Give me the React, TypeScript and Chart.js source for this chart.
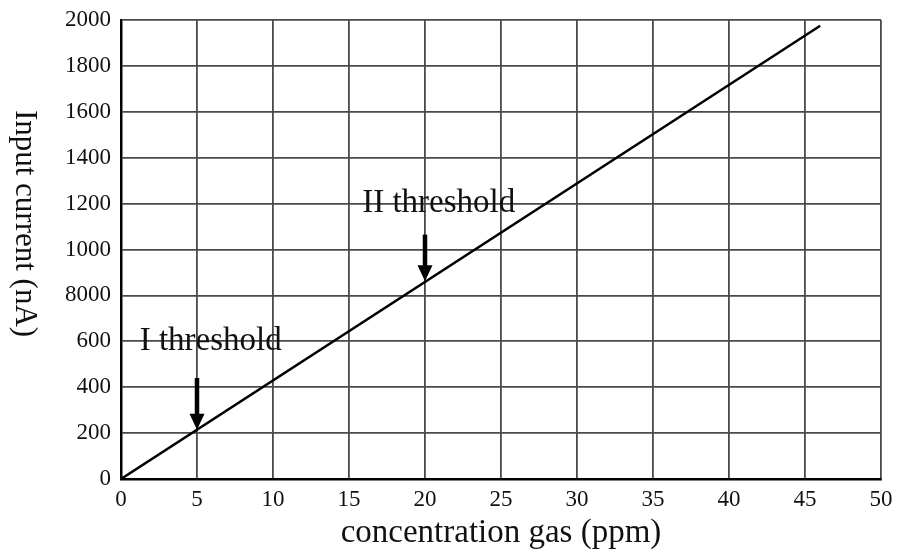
import React, { useEffect, useRef } from "react";
import { Chart, registerables } from "chart.js";

Chart.register(...registerables);

const concentration = [0, 46];
const inputCurrent = [0, 1975];
const yTickValues = [0, 200, 400, 600, 800, 1000, 1200, 1400, 1600, 1800, 2000];
const yTickLabels = ["0", "200", "400", "600", "8000", "1000", "1200", "1400", "1600", "1800", "2000"];
const thresholdNames = ["I threshold", "II threshold"];
const thresholdX = [5, 20];
const arrowFromY = [440, 1065];
const arrowToY = [215, 862];
const labelX = [5.9, 20.9];
const labelY = [600, 1200];
const yTitle = "Input current (nA)";
const xTitle = "concentration gas (ppm)";

const FONT = "'Liberation Serif', 'DejaVu Serif', serif";

const annotationPlugin = {
  id: "thresholds",
  afterDatasetsDraw(chart: any) {
    const { ctx, scales } = chart;
    const xs = scales.x;
    const ys = scales.y;
    ctx.save();
    for (let i = 0; i < thresholdNames.length; i++) {
      const px = xs.getPixelForValue(thresholdX[i]);
      const y0 = ys.getPixelForValue(arrowFromY[i]);
      const y1 = ys.getPixelForValue(arrowToY[i]);
      const head = 16;
      ctx.strokeStyle = "#000";
      ctx.fillStyle = "#000";
      ctx.lineWidth = 4.5;
      ctx.beginPath();
      ctx.moveTo(px, y0);
      ctx.lineTo(px, y1 - head + 2);
      ctx.stroke();
      ctx.beginPath();
      ctx.moveTo(px - 7.5, y1 - head);
      ctx.lineTo(px + 7.5, y1 - head);
      ctx.lineTo(px, y1);
      ctx.closePath();
      ctx.fill();
      ctx.font = `33px ${FONT}`;
      ctx.fillStyle = "#111";
      ctx.textAlign = "center";
      ctx.textBaseline = "middle";
      ctx.fillText(thresholdNames[i], xs.getPixelForValue(labelX[i]), ys.getPixelForValue(labelY[i]));
    }
    ctx.restore();
  },
  afterDraw(chart: any) {
    const { ctx, chartArea } = chart;
    ctx.save();
    ctx.translate(24, (chartArea.top + chartArea.bottom) / 2 - 26);
    ctx.rotate(Math.PI / 2);
    ctx.font = `31px ${FONT}`;
    ctx.fillStyle = "#111";
    ctx.textAlign = "center";
    ctx.textBaseline = "middle";
    ctx.fillText(yTitle, 0, 0);
    ctx.restore();
  },
};

export default function App() {
  const ref = useRef<HTMLCanvasElement>(null);
  useEffect(() => {
    document.body.style.margin = "0";
    const chart = new Chart(ref.current as HTMLCanvasElement, {
      type: "line",
      data: {
        datasets: [
          {
            data: concentration.map((c, i) => ({ x: c, y: inputCurrent[i] })),
            borderColor: "#000",
            borderWidth: 2.5,
            pointRadius: 0,
            fill: false,
          },
        ],
      },
      options: {
        animation: false,
        responsive: false,
        maintainAspectRatio: false,
        layout: { padding: { top: 20, right: 20, left: 0, bottom: 0 } },
        plugins: { legend: { display: false }, tooltip: { enabled: false } },
        scales: {
          x: {
            type: "linear",
            min: 0,
            max: 50,
            afterFit: (s: any) => {
              s.height = 74;
            },
            afterBuildTicks: (s: any) => {
              const t = [];
              for (let v = 0; v <= 50; v += 5) t.push({ value: v });
              s.ticks = t;
            },
            ticks: {
              color: "#111",
              font: { family: FONT, size: 23 },
              padding: 7,
              maxRotation: 0,
            },
            grid: { color: "#4a4a4a", lineWidth: 1.8, drawTicks: false },
            border: { color: "#000", width: 2.5 },
            title: {
              display: true,
              text: xTitle,
              color: "#111",
              font: { family: FONT, size: 33 },
              padding: { top: 0, bottom: 0 },
            },
          },
          y: {
            type: "linear",
            min: 0,
            max: 2000,
            afterFit: (s: any) => {
              s.width = 121;
              s.paddingTop = 0;
              s.paddingBottom = 0;
            },
            afterBuildTicks: (s: any) => {
              s.ticks = yTickValues.map((v) => ({ value: v }));
            },
            ticks: {
              color: "#111",
              font: { family: FONT, size: 23, lineHeight: 1 },
              padding: 10,
              callback: (v: any) => {
                const i = yTickValues.indexOf(Number(v));
                return i >= 0 ? yTickLabels[i] : "";
              },
            },
            grid: { color: "#4a4a4a", lineWidth: 1.8, drawTicks: false },
            border: { color: "#000", width: 2.5 },
          },
        },
      },
      plugins: [annotationPlugin],
    });
    return () => chart.destroy();
  }, []);
  return (
    <div style={{ width: 901, height: 553, background: "#fff" }}>
      <canvas ref={ref} width={901} height={553} style={{ display: "block" }} />
    </div>
  );
}
